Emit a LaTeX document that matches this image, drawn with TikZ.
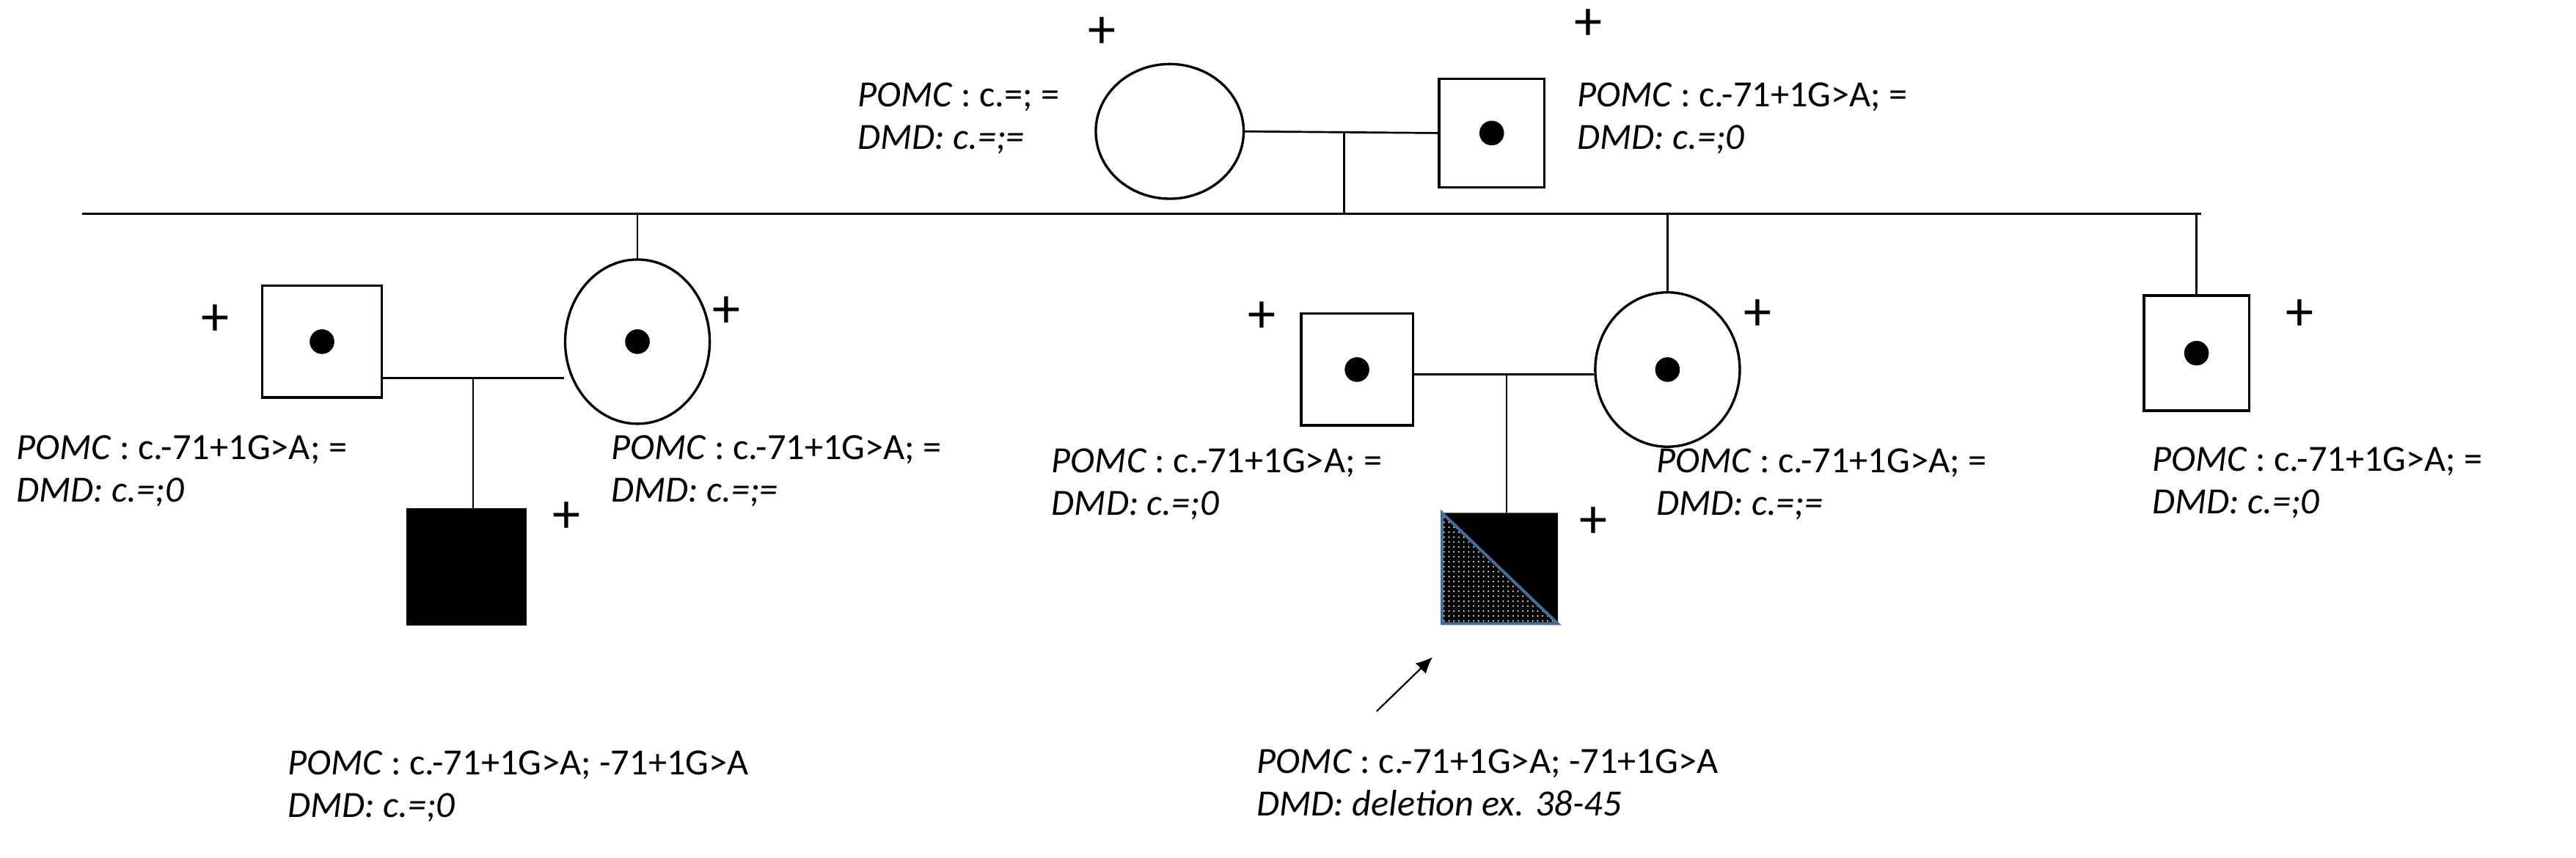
\documentclass[tikz,border=0pt]{standalone}
\usepackage{fontspec}
\setmainfont{Carlito}
\usetikzlibrary{patterns,arrows.meta,shapes.geometric}
\begin{document}
\begin{tikzpicture}[x=1pt,y=-1pt,
  sq/.style={draw,line width=1.5pt,minimum width=68pt,minimum height=68pt,inner sep=0pt},
  ci/.style={draw,line width=1.5pt,ellipse,minimum width=88pt,minimum height=92pt,inner sep=0pt},
  ln/.style={line width=1.2pt},
  lab/.style={anchor=north west,align=left,inner sep=0pt,font=\fontsize{22.5}{26}\selectfont},
  pl/.style={font=\fontsize{34}{34}\selectfont,inner sep=0pt},
  dot/.style={fill,circle,minimum size=15pt,inner sep=0pt}]
\useasboundingbox (0,0) rectangle (1568,522);
\def\P{\textit{POMC} : }
% grandparents
\node[ci,minimum width=90pt,minimum height=82pt] (gm) at (712,80) {};
\node[sq,minimum width=64pt,minimum height=66pt] (gf) at (908,81) {};
\node[dot] at (gf) {};
\node[pl] (pgm) at (671,20) {+};
\node[pl] (pgf) at (967,15) {+};
\draw[ln] (gm.east) -- (gf.west);
\coordinate (gc) at (818,80);
\coordinate (gs) at (818,130);
\draw[ln] (gc) -- (gs);
\coordinate (sl) at (50,130); \coordinate (sr) at (1340,130);
\draw[ln] (sl) -- (sr);
\node[lab] (tgm) at (522,50) {\P c.=; =\\\textit{DMD: c.=;=}};
\node[lab] (tgf) at (960,50) {\P c.-71+1G>A; =\\\textit{DMD: c.=;0}};
% left couple
\node[sq,minimum width=73pt,minimum height=68pt] (lf) at (196,208) {};
\node[dot] at (lf) {};
\node[ci,minimum width=88pt,minimum height=100pt] (lm) at (388,208) {};
\node[dot] at (lm) {};
\node[pl] at (131,195) {+};
\node[pl] at (442,190) {+};
\coordinate (lmt) at (388,130);
\draw[ln] (lmt) -- (lm.north);
\coordinate (lc) at (288,230);
\draw[ln] (lf.east |- lc) -- (lm.west |- lc);
\node[sq,fill=black,minimum width=72pt,minimum height=70pt] (lk) at (284,345) {};
\draw[ln] (lc) -- (lc |- lk.north);
\node[pl] at (345,315) {+};
\node[lab] at (10,265) {\P c.-71+1G>A; =\\\textit{DMD: c.=;0}};
\node[lab] at (372,265) {\P c.-71+1G>A; =\\\textit{DMD: c.=;=}};
\node[lab] at (175,457) {\P c.-71+1G>A; -71+1G>A\\\textit{DMD: c.=;0}};
% middle couple
\node[sq] (mf) at (826,225) {};
\node[dot] at (mf) {};
\node[ci,minimum width=88pt,minimum height=94pt] (mm) at (1015,225) {};
\node[dot] at (mm) {};
\node[pl] at (768,193) {+};
\node[pl] at (1070,192) {+};
\coordinate (mmt) at (1015,130);
\draw[ln] (mmt) -- (mm.north);
\coordinate (mc) at (917,228);
\draw[ln] (mf.east |- mc) -- (mm.west |- mc);
\node[minimum width=70pt,minimum height=67pt,inner sep=0pt] (pk) at (913,346) {};
\fill[black] (pk.north west) -- (pk.north east) -- (pk.south east) -- cycle;
\fill[black] (pk.north west) -- (pk.south east) -- (pk.south west) -- cycle;
\fill[pattern=dots,pattern color=white] (pk.north west) -- (pk.south east) -- (pk.south west) -- cycle;
\draw[line width=1.8pt,color={rgb,255:red,70;green,110;blue,150}] (pk.north west) -- (pk.south east) -- (pk.south west) -- cycle;
\draw[ln] (mc) -- (mc |- pk.north);
\node[pl] at (970,318) {+};
\coordinate (ar1) at (838,433); \coordinate (ar2) at (872,400);
\draw[line width=1pt,-{Latex[length=10pt,width=9pt]}] (ar1) -- (ar2);
\node[lab] at (640,273) {\P c.-71+1G>A; =\\\textit{DMD: c.=;0}};
\node[lab] at (1008,273) {\P c.-71+1G>A; =\\\textit{DMD: c.=;=}};
\node[lab] at (765,456) {\P c.-71+1G>A; -71+1G>A\\\textit{DMD: deletion ex. 38-45}};
% right son
\node[sq,minimum width=64pt,minimum height=70pt] (rs) at (1337,215) {};
\node[dot] at (rs) {};
\node[pl] at (1400,192) {+};
\coordinate (rst) at (1337,130);
\draw[ln] (rst) -- (rs.north);
\node[lab] at (1310,272) {\P c.-71+1G>A; =\\\textit{DMD: c.=;0}};
\end{tikzpicture}
\end{document}
